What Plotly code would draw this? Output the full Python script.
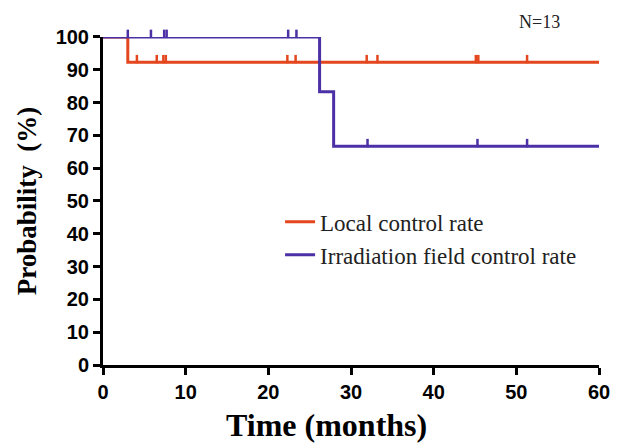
import plotly.graph_objects as go

# Step curves (Kaplan-Meier style)
local_x = [0, 3, 60]
local_y = [100, 92.3, 92.3]
field_x = [0, 26.2, 27.9, 60]
field_y = [100, 83.3, 66.7, 66.7]

# Censor marks
local_cens_x = [4.1, 6.5, 7.3, 7.6, 22.3, 23.3, 31.9, 33.2, 45.1, 45.4, 51.3]
local_cens_y = [92.3] * len(local_cens_x)
field_cens_x = [3.0, 5.8, 7.4, 7.7, 22.4, 23.4, 32.0, 45.3, 51.3]
field_cens_y = [100, 100, 100, 100, 100, 100, 66.7, 66.7, 66.7]

x_ticks = [0, 10, 20, 30, 40, 50, 60]
y_ticks = [0, 10, 20, 30, 40, 50, 60, 70, 80, 90, 100]

RED = "#E4461E"
BLUE = "#4B30A6"
TICK_H = 0.95  # half-height of censor tick, in data units (mark sits above the line)

# main y-axis occupies lower part; an invisible twin subplot extends slightly above
D = 330 / 336

fig = go.Figure()
fig.add_trace(go.Scatter(x=local_x, y=local_y, mode="lines", line_shape="hv",
                         line=dict(color=RED, width=3), name="Local control rate",
                         cliponaxis=False))
fig.add_trace(go.Scatter(x=field_x, y=field_y, mode="lines", line_shape="hv",
                         line=dict(color=BLUE, width=3), name="Irradiation field control rate",
                         cliponaxis=False))
fig.add_trace(go.Scatter(x=local_cens_x, y=[v + TICK_H for v in local_cens_y], mode="markers",
                         xaxis="x2", yaxis="y2",
                         marker=dict(symbol="line-ns", size=6, line=dict(color=RED, width=2.5)),
                         showlegend=False, cliponaxis=False))
fig.add_trace(go.Scatter(x=field_cens_x, y=[v + TICK_H for v in field_cens_y], mode="markers",
                         xaxis="x2", yaxis="y2",
                         marker=dict(symbol="line-ns", size=6, line=dict(color=BLUE, width=2.5)),
                         showlegend=False, cliponaxis=False))

fig.update_layout(
    width=622, height=445,
    margin=dict(l=95, r=31, t=21, b=88),
    plot_bgcolor="rgba(0,0,0,0)", paper_bgcolor="white",
    showlegend=True,
    legend=dict(x=0.357, y=0.493, xanchor="left", yanchor="top",
                font=dict(family="Liberation Serif", size=23, color="#222"),
                bgcolor="rgba(0,0,0,0)", tracegroupgap=0),
    annotations=[
        dict(text="N=13", x=0.88, y=0.992, xref="paper", yref="paper",
             xanchor="center", yanchor="bottom", showarrow=False,
             font=dict(family="Liberation Serif", size=18, color="#222")),
        dict(text="<b>Time (months)</b>", x=0.4516, y=-0.1786, xref="paper", yref="paper",
             xanchor="center", yanchor="middle", showarrow=False,
             font=dict(family="Liberation Serif", size=32, color="black")),
    ],
    xaxis=dict(range=[0, 60], tickvals=x_ticks, ticktext=[f"<b>{v}</b>" for v in x_ticks],
               ticks="outside", ticklen=7, tickwidth=3,
               tickcolor="black", showline=True, linecolor="black", linewidth=3,
               showgrid=False, zeroline=False,
               tickfont=dict(family="Liberation Sans", size=20, color="black")),
    yaxis=dict(range=[0, 100], domain=[0, D], tickvals=y_ticks,
               ticktext=[f"<b>{v}</b>" for v in y_ticks],
               ticks="outside", ticklen=7, tickwidth=3,
               tickcolor="black", showline=True, linecolor="black", linewidth=3,
               showgrid=False, zeroline=False,
               tickfont=dict(family="Liberation Sans", size=20, color="black"),
               title=dict(text="<b>Probability  (%)</b>", standoff=12,
                          font=dict(family="Liberation Serif", size=27, color="black"))),
    xaxis2=dict(range=[0, 60], matches="x", anchor="y2", visible=False),
    yaxis2=dict(range=[0, 100 / D], domain=[0, 1], anchor="x2", visible=False),
)

fig.write_html("out.html")
